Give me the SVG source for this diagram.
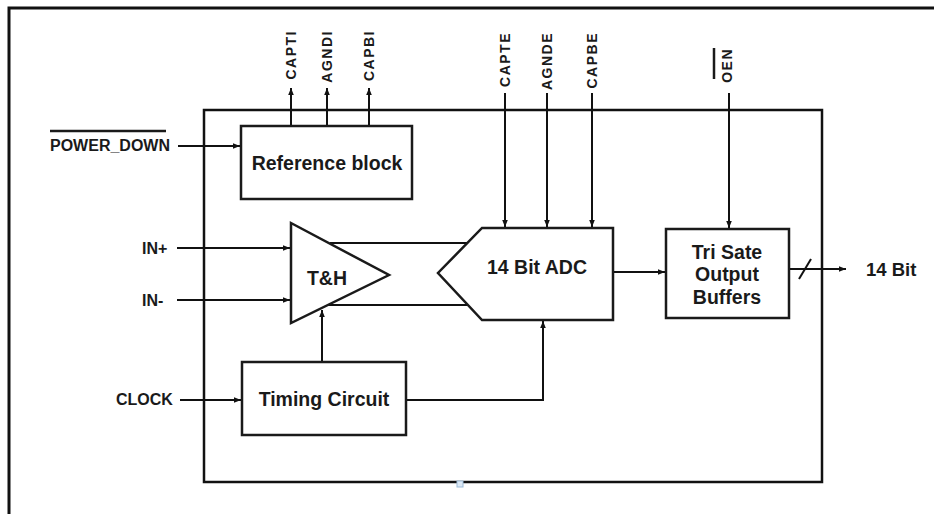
<svg xmlns="http://www.w3.org/2000/svg" width="934" height="514" viewBox="0 0 934 514">
<style>
.ln{fill:none;stroke:#111;stroke-width:2}
.box{fill:#fff;stroke:#1a1a1a;stroke-width:2.5}
.frame{fill:none;stroke:#111;stroke-width:2.5}
.lbl{font-family:"Liberation Sans",Arial,sans-serif;font-weight:bold;font-size:16px;fill:#1a1a1a}
.pin{font-family:"Liberation Sans",Arial,sans-serif;font-weight:bold;font-size:14px;fill:#1a1a1a;letter-spacing:1.5px;text-anchor:end}
.blk{font-family:"Liberation Sans",Arial,sans-serif;font-weight:bold;font-size:19.5px;fill:#1a1a1a;text-anchor:middle;dominant-baseline:central}
</style>
<defs>
<marker id="ah" viewBox="0 0 10 10" refX="10" refY="5" markerWidth="8" markerHeight="7" markerUnits="userSpaceOnUse" orient="auto"><path d="M0,1 L10,5 L0,9 Z" fill="#111"/></marker>
</defs>
<rect x="0" y="0" width="934" height="514" fill="#fff"/>
<path d="M9,514 V8 H934" fill="none" stroke="#111" stroke-width="3"/>
<g id="chip">
<rect x="204" y="110" width="618" height="372" class="frame"/>
<rect x="457" y="481" width="6" height="6" fill="#dce9f6" stroke="#9dbbd8" stroke-width="1"/>
</g>
<g id="connectors">
<path class="ln" d="M178,146 H240" marker-end="url(#ah)"/>
<path class="ln" d="M291,126 V88" marker-end="url(#ah)"/>
<path class="ln" d="M327,126 V88" marker-end="url(#ah)"/>
<path class="ln" d="M369,126 V88" marker-end="url(#ah)"/>
<path class="ln" d="M505,93 V227" marker-end="url(#ah)"/>
<path class="ln" d="M547,93 V227" marker-end="url(#ah)"/>
<path class="ln" d="M592,93 V227" marker-end="url(#ah)"/>
<path class="ln" d="M729,93 V228" marker-end="url(#ah)"/>
<path class="ln" d="M177,248 H290" marker-end="url(#ah)"/>
<path class="ln" d="M177,300 H290" marker-end="url(#ah)"/>
<path class="ln" d="M330,243 H467"/>
<path class="ln" d="M328,305 H468"/>
<path class="ln" d="M613,272 H665" marker-end="url(#ah)"/>
<path class="ln" d="M789,269 H846" marker-end="url(#ah)"/>
<path class="ln" d="M799,279 L811,259"/>
<path class="ln" d="M180,400 H241" marker-end="url(#ah)"/>
<path class="ln" d="M322,362 V310" marker-end="url(#ah)"/>
<path class="ln" d="M406,400 H543 V321" marker-end="url(#ah)"/>
</g>
<g id="reference-block">
<rect x="241" y="126" width="171" height="73" class="box"/>
<text class="blk" x="327" y="163">Reference block</text>
</g>
<g id="track-hold">
<polygon points="291,223 389,275 291,323" class="box"/>
<text class="blk" x="327" y="278">T&amp;H</text>
</g>
<g id="adc">
<polygon points="482,228 613,228 613,320 482,320 438,273" class="box"/>
<text class="blk" x="537" y="267">14 Bit ADC</text>
</g>
<g id="output-buffers">
<rect x="666" y="229" width="123" height="89" class="box"/>
<text class="blk" x="727" y="252">Tri Sate</text>
<text class="blk" x="727" y="274">Output</text>
<text class="blk" x="727" y="297">Buffers</text>
</g>
<g id="timing-circuit">
<rect x="242" y="362" width="164" height="73" class="box"/>
<text class="blk" x="324" y="399">Timing Circuit</text>
</g>
<g id="labels">
<text class="lbl" x="50" y="151">POWER_DOWN</text>
<path d="M50,131 H166" stroke="#1a1a1a" stroke-width="2.5"/>
<text class="lbl" x="142" y="254">IN+</text>
<text class="lbl" x="142" y="306">IN-</text>
<text class="lbl" x="116" y="405">CLOCK</text>
<text x="866" y="276" style="font-family:'Liberation Sans',Arial,sans-serif;font-weight:bold;font-size:18.5px;fill:#1a1a1a">14 Bit</text>
<text class="pin" transform="translate(296,30) rotate(-90)">CAPTI</text>
<text class="pin" transform="translate(332,30) rotate(-90)">AGNDI</text>
<text class="pin" transform="translate(374,30) rotate(-90)">CAPBI</text>
<text class="pin" transform="translate(510,32) rotate(-90)">CAPTE</text>
<text class="pin" transform="translate(552,32) rotate(-90)">AGNDE</text>
<text class="pin" transform="translate(597,32) rotate(-90)">CAPBE</text>
<text class="pin" transform="translate(732,48) rotate(-90)">OEN</text>
<path d="M714,48 V79" stroke="#1a1a1a" stroke-width="2.5"/>
</g>
</svg>
